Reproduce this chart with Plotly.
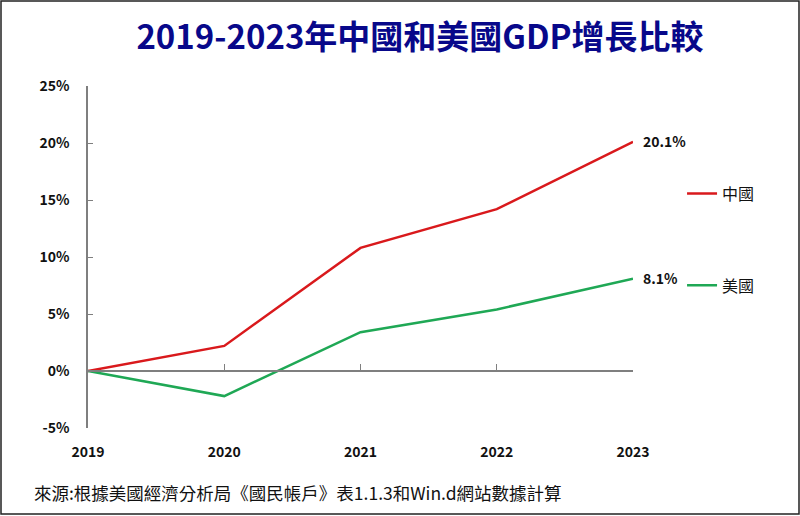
import plotly.graph_objects as go

# data
years = [2019, 2020, 2021, 2022, 2023]
china = [0.0, 2.2, 10.8, 14.2, 20.1]
usa = [0.0, -2.2, 3.4, 5.4, 8.1]
y_ticks = [-5, 0, 5, 10, 15, 20, 25]

CJK = "Noto Sans CJK TC"
AXIS_GREY = "#7f7f7f"

fig = go.Figure()

fig.add_trace(go.Scatter(
    x=years, y=china, name="中國", mode="lines",
    line=dict(color="#d9191c", width=2.5), legendgroup="cn",
))
fig.add_trace(go.Scatter(
    x=years, y=usa, name="美國", mode="lines",
    line=dict(color="#1fa855", width=2.5), legendgroup="us",
))

# end-point value labels
for series in (china, usa):
    fig.add_annotation(
        x=years[-1], y=series[-1], text=f"<b>{series[-1]:.1f}%</b>",
        showarrow=False, xanchor="left", xshift=8, yshift=1,
        font=dict(family=CJK, size=14, color="#111"),
    )

ymin, ymax = y_ticks[0], y_ticks[-1]

fig.update_layout(
    width=800, height=516,
    paper_bgcolor="white", plot_bgcolor="white",
    margin=dict(l=88, r=167, t=86, b=88),
    title=dict(
        text="<b>2019-2023年中國和美國GDP增長比較</b>",
        x=0.525, xanchor="center", y=0.927, yanchor="middle",
        font=dict(family=CJK, size=33, color="#08088a"),
    ),
    showlegend=True,
    legend=dict(
        x=1.09, xanchor="left", y=0.735, yanchor="top",
        tracegroupgap=68, itemwidth=30,
        font=dict(family=CJK, size=16, color="#111"),
        bgcolor="rgba(0,0,0,0)",
    ),
    xaxis=dict(
        range=[years[0], years[-1]], tickvals=years,
        ticktext=[f"<b>{y}</b>" for y in years],
        showline=False, showgrid=False, zeroline=False, ticks="",
        tickfont=dict(family=CJK, size=14, color="#111"),
        ticklabelstandoff=14,
    ),
    # zero-level axis line with upward ticks at each year
    xaxis2=dict(
        overlaying="x", matches="x", anchor="free",
        position=(0 - ymin) / (ymax - ymin),
        tickvals=years, showticklabels=False,
        showline=True, linecolor=AXIS_GREY, linewidth=1.5,
        ticks="inside", ticklen=6, tickcolor=AXIS_GREY, tickwidth=1,
        showgrid=False, zeroline=False,
    ),
    yaxis=dict(
        range=[ymin, ymax], tickvals=y_ticks,
        ticktext=[f"<b>{v}%</b>" for v in y_ticks],
        showline=True, linecolor=AXIS_GREY, linewidth=1.5,
        ticks="inside", ticklen=5, tickcolor=AXIS_GREY,
        showgrid=False, zeroline=False,
        tickfont=dict(family=CJK, size=14, color="#111"),
        ticklabelstandoff=14,
    ),
)

# dummy trace so the zero-level axis is drawn
fig.add_trace(go.Scatter(x=years, y=[None] * len(years), xaxis="x2",
                         showlegend=False, hoverinfo="skip"))

fig.add_annotation(
    text="來源:根據美國經濟分析局《國民帳戶》表1.1.3和Win.d網站數據計算",
    xref="paper", yref="paper", x=-0.102, y=-0.19,
    xanchor="left", yanchor="middle", showarrow=False,
    font=dict(family=CJK, size=17.5, color="#111"),
)

# thin frame around the whole picture
fig.add_shape(type="rect", xref="paper", yref="paper",
              x0=-87 / 545, x1=1 + 166 / 545, y0=-86 / 342, y1=1 + 85 / 342,
              line=dict(color="#222", width=1.5))

fig.write_html("out.html", config={"displayModeBar": False},
               post_script="document.body.style.margin='0';")
